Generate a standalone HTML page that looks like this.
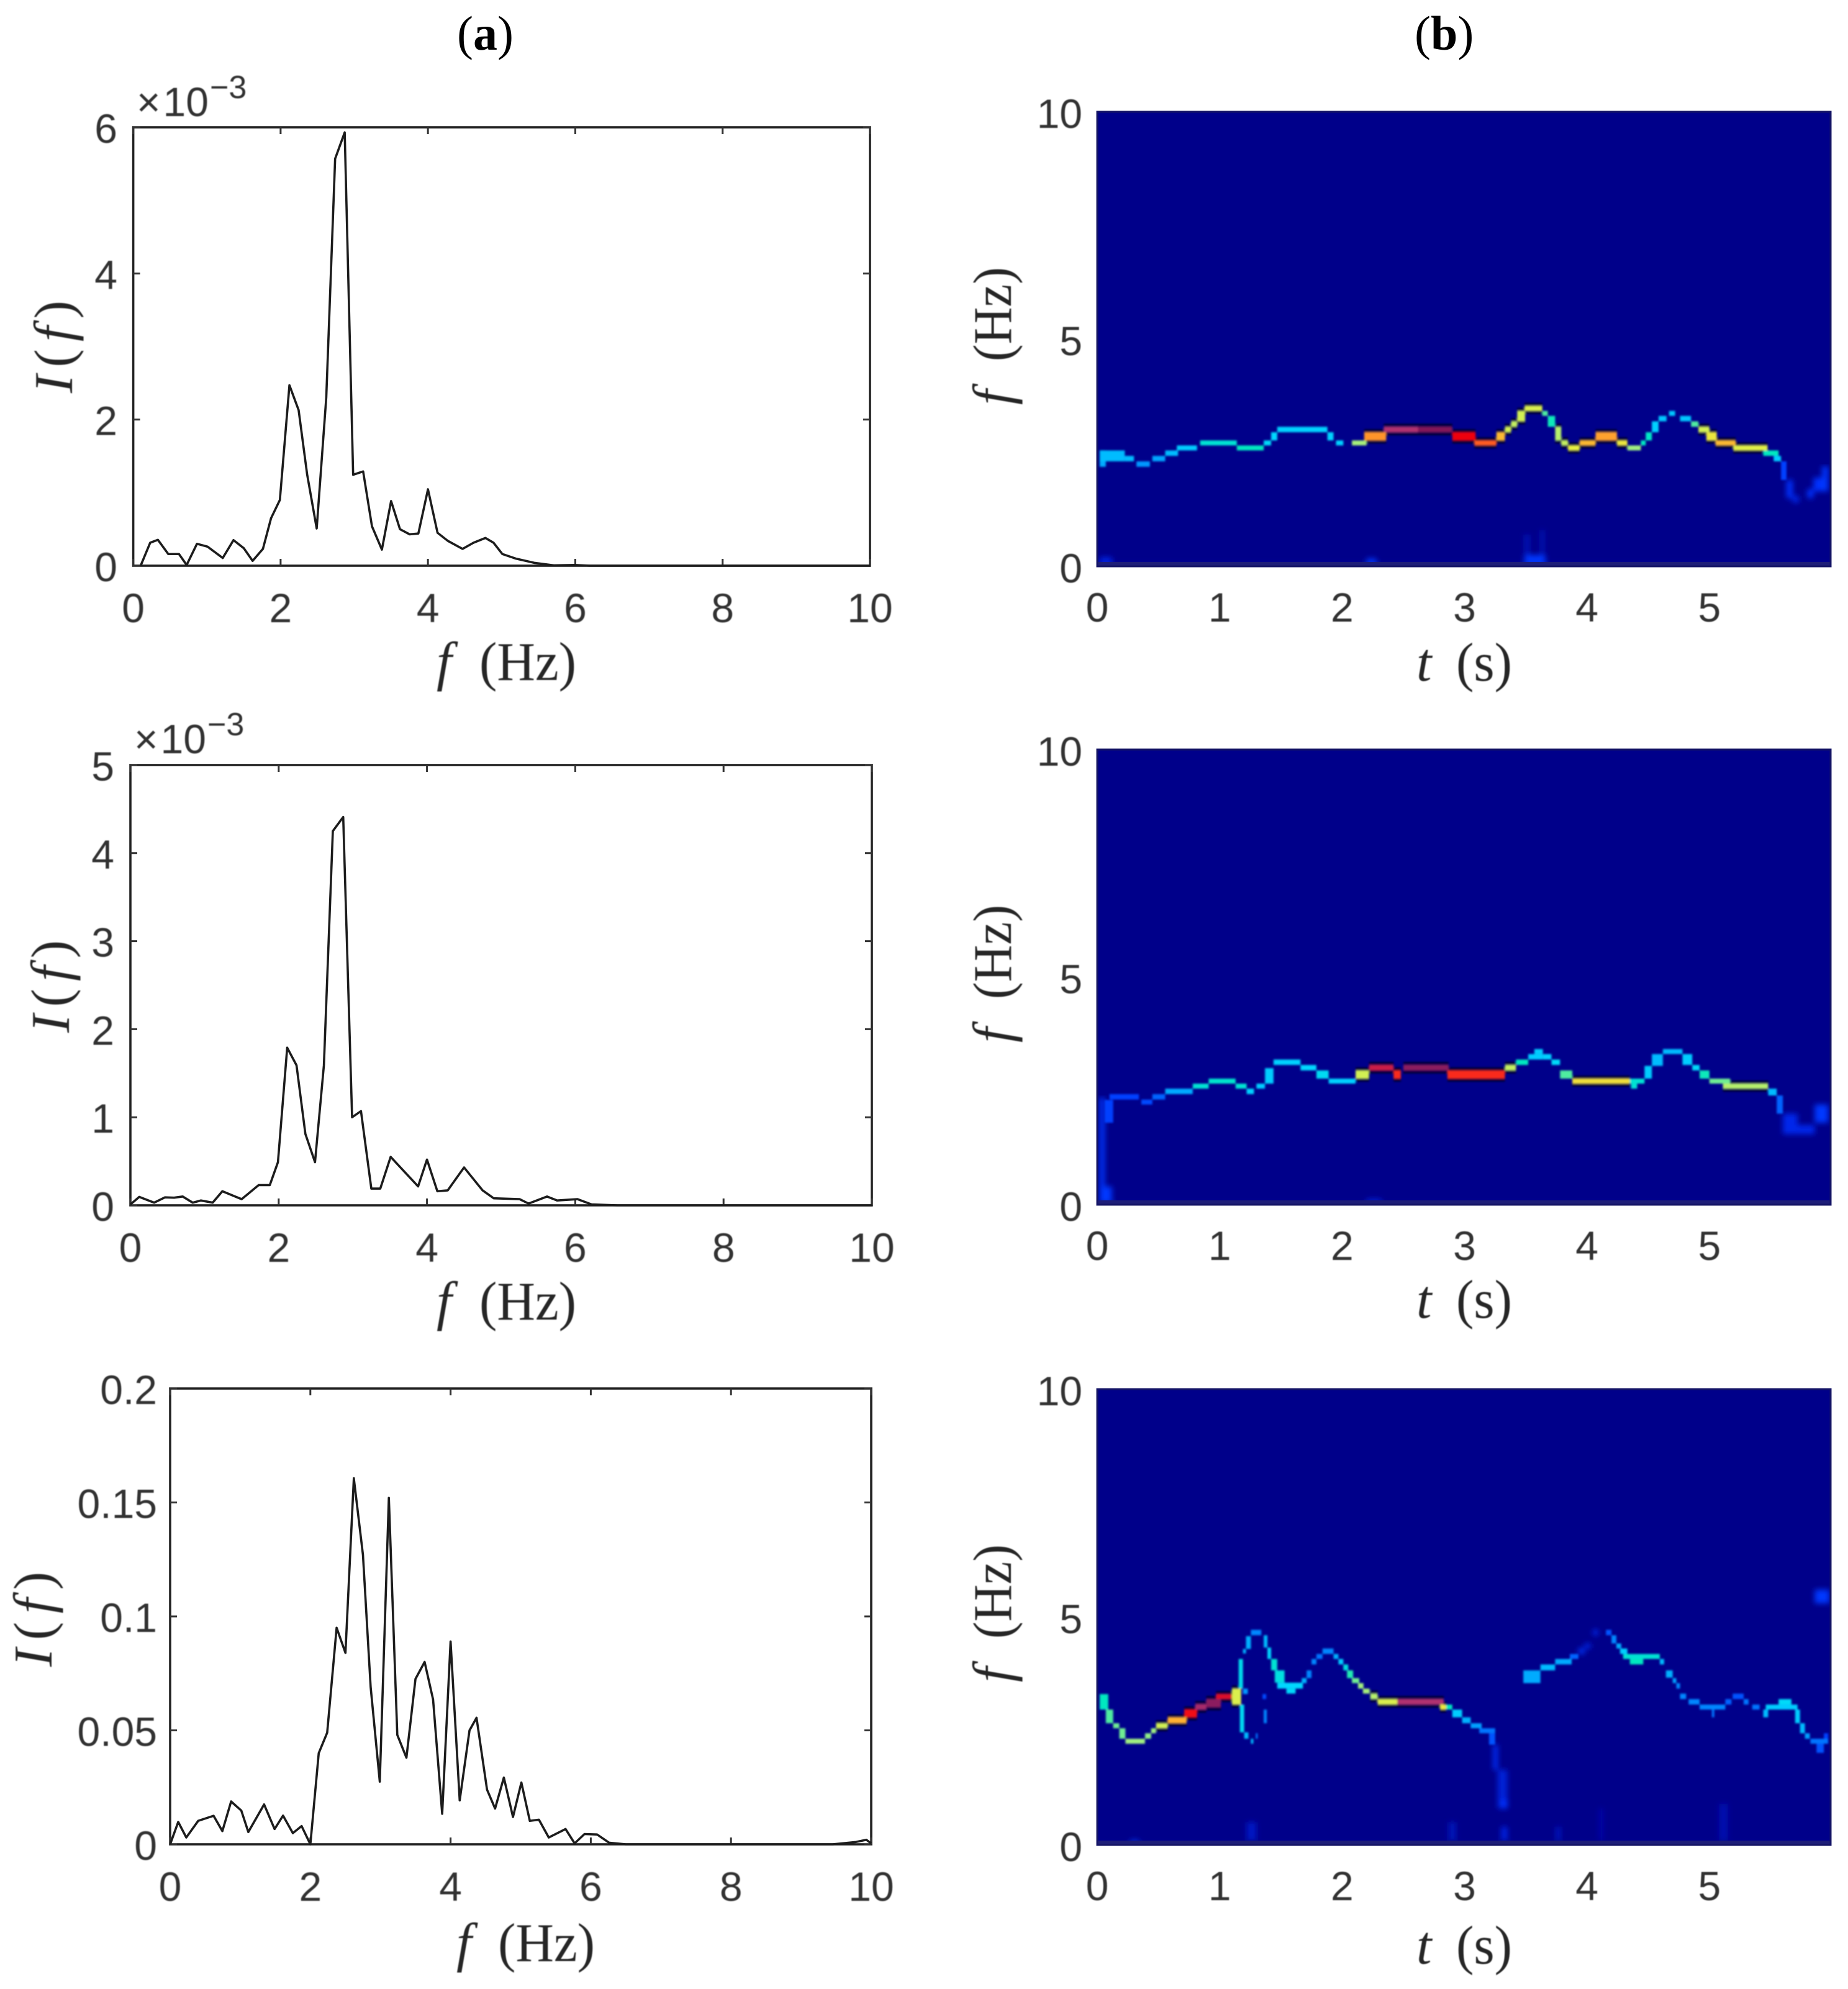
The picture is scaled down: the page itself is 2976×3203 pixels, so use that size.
<!DOCTYPE html>
<html>
<head>
<meta charset="utf-8">
<title>Spectra and spectrograms</title>
<style>
html,body{margin:0;padding:0;background:#fff;}
svg{display:block;}
.lab{font-family:"Liberation Serif",serif;fill:#262626;font-size:88px;}
.it{font-style:italic;}
.up{font-style:normal;}
.sans{font-family:"Liberation Sans",sans-serif;fill:#333;font-size:66px;}
.title{font-family:"Liberation Serif",serif;fill:#000;font-size:78px;}
</style>
</head>
<body>
<svg id="figure" xmlns="http://www.w3.org/2000/svg" width="2976" height="3203" viewBox="0 0 2976 3203">
<defs>
<filter id="soft" x="-2%" y="-2%" width="104%" height="104%"><feGaussianBlur stdDeviation="1.6"/></filter>
<filter id="softWide" x="-2%" y="-2%" width="104%" height="104%"><feGaussianBlur stdDeviation="4.5"/></filter>
<filter id="softText" x="-5%" y="-5%" width="110%" height="110%"><feGaussianBlur stdDeviation="0.9"/></filter>
</defs>
<rect width="2976" height="3203" fill="#fff"/>
<g id="plots"></g>
<text class="title" x="736" y="80">(<tspan font-weight="bold">a</tspan>)</text>
<text class="title" x="2278" y="80">(<tspan font-weight="bold">b</tspan>)</text>
<g filter="url(#softText)">
<text class="sans" x="220" y="187">×<tspan dx="4">10</tspan><tspan dy="-29" dx="2" font-size="52">−3</tspan></text>
<text class="sans" x="216" y="1213">×<tspan dx="4">10</tspan><tspan dy="-29" dx="2" font-size="52">−3</tspan></text>

<text class="lab it" x="703" y="1095">f</text>
<text class="lab" x="772" y="1095" textLength="156" lengthAdjust="spacingAndGlyphs">(Hz)</text>
<text class="lab it" x="703" y="2125">f</text>
<text class="lab" x="772" y="2125" textLength="156" lengthAdjust="spacingAndGlyphs">(Hz)</text>
<text class="lab it" x="735" y="3158">f</text>
<text class="lab" x="802" y="3158" textLength="156" lengthAdjust="spacingAndGlyphs">(Hz)</text>

<text class="lab it" transform="translate(116,633) rotate(-90)" textLength="149">I<tspan class="up">(</tspan>f<tspan class="up">)</tspan></text>
<text class="lab it" transform="translate(111,1663) rotate(-90)" textLength="149">I<tspan class="up">(</tspan>f<tspan class="up">)</tspan></text>
<text class="lab it" transform="translate(83,2684) rotate(-90)" textLength="153">I<tspan class="up">(</tspan>f<tspan class="up">)</tspan></text>

<text class="lab it" x="2281" y="1096">t</text>
<text class="lab" x="2345" y="1096" textLength="90" lengthAdjust="spacingAndGlyphs">(s)</text>
<text class="lab it" x="2281" y="2122">t</text>
<text class="lab" x="2345" y="2122" textLength="90" lengthAdjust="spacingAndGlyphs">(s)</text>
<text class="lab it" x="2281" y="3162">t</text>
<text class="lab" x="2345" y="3162" textLength="90" lengthAdjust="spacingAndGlyphs">(s)</text>

<text class="lab it" transform="translate(1628,652) rotate(-90)">f</text>
<text class="lab" transform="translate(1628,582) rotate(-90)" textLength="152" lengthAdjust="spacingAndGlyphs">(Hz)</text>
<text class="lab it" transform="translate(1628,1679) rotate(-90)">f</text>
<text class="lab" transform="translate(1628,1609) rotate(-90)" textLength="152" lengthAdjust="spacingAndGlyphs">(Hz)</text>
<text class="lab it" transform="translate(1628,2709) rotate(-90)">f</text>
<text class="lab" transform="translate(1628,2639) rotate(-90)" textLength="152" lengthAdjust="spacingAndGlyphs">(Hz)</text>
</g>
</svg>
<script>
// ---------- Spectrum data (column a) ----------
const xTickLabelsA = ['0','2','4','6','8','10'];
const a1YTicks = ['0','2','4','6'];
const a2YTicks = ['0','1','2','3','4','5'];
const a3YTicks = ['0','0.05','0.1','0.15','0.2'];

const a1Freq = [.10,.23,.335,.475,.62,.725,.865,1.01,1.215,1.36,1.50,1.62,1.76,1.87,1.99,2.12,2.245,2.36,2.49,2.62,2.74,2.87,2.985,3.12,3.24,3.375,3.5,3.62,3.75,3.87,4.0,4.13,4.27,4.47,4.62,4.78,4.89,5.01,5.2,5.44,5.71,5.99,6.2,10];
const a1Intensity = [0,.315,.354,.16,.16,.01,.30,.26,.105,.35,.24,.066,.23,.65,.9,2.47,2.13,1.25,.51,2.3,5.57,5.93,1.245,1.29,.54,.22,.885,.5,.43,.44,1.045,.45,.34,.23,.315,.38,.315,.16,.095,.04,.005,.01,0,0];

const a2Freq = [0,.12,.32,.465,.59,.705,.84,.95,1.11,1.24,1.5,1.73,1.88,1.99,2.115,2.24,2.36,2.49,2.61,2.73,2.87,2.99,3.11,3.25,3.37,3.51,3.88,4.0,4.14,4.28,4.5,4.75,4.9,5.25,5.37,5.62,5.755,6.03,6.22,6.57,10];
const a2Intensity = [.01,.096,.03,.09,.087,.10,.03,.055,.03,.16,.07,.23,.23,.49,1.79,1.59,.81,.49,1.59,4.25,4.41,1.0,1.07,.19,.19,.55,.215,.52,.16,.17,.43,.17,.08,.07,.02,.10,.055,.07,.01,0,0];

const a3Freq = [0,.115,.23,.40,.62,.745,.87,1.015,1.115,1.34,1.49,1.61,1.75,1.875,2.0,2.12,2.24,2.375,2.5,2.62,2.75,2.86,2.99,3.12,3.24,3.37,3.5,3.63,3.75,3.88,4.0,4.13,4.27,4.37,4.52,4.635,4.76,4.89,5.01,5.13,5.26,5.4,5.64,5.77,5.91,6.09,6.26,6.5,9.45,9.78,9.93,10];
const a3Intensity = [0,.0098,.003,.0103,.0125,.0058,.0188,.0148,.0054,.0175,.0067,.0126,.0049,.008,0,.040,.049,.095,.084,.1606,.127,.069,.0275,.152,.048,.038,.0726,.080,.0636,.0134,.089,.0193,.05,.0555,.024,.0157,.0293,.012,.0271,.0103,.0108,.003,.0067,.0004,.0045,.0043,.0007,0,0,.001,.002,.0004];

// ---------- Spectrogram data (column b) : each index is one ridge cell ----------
const xTickLabelsB = ['0','1','2','3','4','5'];
const yTickLabelsB = ['0','5','10'];

const b1Start = [0,.02,2.2,3.49,3.49,3.62,.02,.02,.225,.32,.45,.555,.65,.84,1.14,1.36,1.42,1.47,1.88,1.95,2.08,2.18,2.34,2.62,2.90,3.08,3.26,3.33,3.38,3.43,3.49,3.635,3.68,3.74,3.79,3.845,3.94,4.07,4.245,4.33,4.44,4.48,4.53,4.585,4.67,4.76,4.85,4.91,4.975,5.05,5.195,5.44,5.525,5.585,5.63,5.68,5.80,5.85,5.92];
const b1End   = [5.99,.12,2.28,3.66,3.53,3.65,.07,.225,.30,.43,.555,.66,.815,1.14,1.36,1.42,1.47,1.88,1.93,2.01,2.20,2.36,2.62,2.90,3.09,3.26,3.33,3.38,3.43,3.495,3.635,3.68,3.74,3.79,3.845,3.94,4.07,4.245,4.33,4.44,4.48,4.53,4.585,4.65,4.72,4.85,4.91,5.00,5.06,5.215,5.475,5.565,5.585,5.63,5.68,5.73,5.85,5.92,5.97];
const b1Low   = [0,.05,.05,.05,.25,.25,2.19,2.31,2.31,2.19,2.31,2.43,2.55,2.66,2.55,2.66,2.77,2.95,2.77,2.66,2.66,2.77,2.95,2.95,2.77,2.66,2.77,2.95,3.07,3.19,3.42,3.31,3.07,2.77,2.66,2.55,2.66,2.77,2.66,2.55,2.66,2.77,2.95,3.19,3.31,3.19,3.07,2.95,2.77,2.66,2.55,2.43,2.31,1.9,1.5,1.4,1.5,1.65,1.65];
const b1High  = [.07,.2,.17,.25,.7,.8,2.55,2.55,2.43,2.31,2.43,2.55,2.66,2.77,2.66,2.77,2.95,3.07,2.95,2.77,2.77,2.95,3.07,3.07,2.95,2.77,2.95,3.07,3.19,3.42,3.53,3.42,3.31,3.07,2.77,2.66,2.77,2.95,2.77,2.66,2.77,2.95,3.19,3.31,3.42,3.31,3.19,3.07,2.95,2.77,2.66,2.55,2.43,2.31,1.9,1.55,1.7,1.95,2.2];
const b1Level = [.02,.09,.13,.13,.05,.05,.27,.3,.3,.24,.26,.3,.33,.42,.45,.36,.35,.34,.34,.34,.56,.74,.93,.98,.86,.78,.71,.62,.6,.62,.63,.5,.46,.58,.6,.65,.71,.73,.66,.55,.45,.44,.34,.32,.32,.32,.5,.62,.66,.71,.64,.45,.33,.14,.12,.1,.12,.12,.13];

const b2Start = [0,.02,.02,.06,.1,.36,.45,.555,.78,.91,1.13,1.22,1.30,1.37,1.44,1.66,1.79,1.89,2.11,2.22,2.42,2.50,2.86,3.33,3.42,3.52,3.57,3.64,3.71,3.78,3.88,4.35,4.36,4.47,4.53,4.62,4.78,4.86,4.92,5.0,5.11,5.48,5.55,5.6,5.72,5.86,2.2];
const b2End   = [5.99,.06,.12,.13,.34,.45,.555,.78,.91,1.13,1.22,1.28,1.37,1.44,1.66,1.79,1.89,2.11,2.22,2.42,2.48,2.87,3.33,3.42,3.52,3.64,3.64,3.71,3.78,3.88,4.35,4.47,4.41,4.53,4.62,4.78,4.86,4.92,5.0,5.17,5.48,5.55,5.6,5.72,5.86,5.97,2.32];
const b2Low   = [0,.2,.05,1.8,2.31,2.2,2.31,2.43,2.55,2.66,2.55,2.43,2.55,2.66,3.07,2.95,2.77,2.66,2.77,2.95,2.77,2.95,2.77,2.95,3.07,3.19,3.31,3.19,3.07,2.77,2.66,2.66,2.55,2.77,3.05,3.31,3.07,2.95,2.77,2.66,2.55,2.4,2.0,1.55,1.55,1.8,.03];
const b2High  = [.05,2.35,.4,2.3,2.43,2.31,2.43,2.55,2.66,2.77,2.66,2.55,2.66,3.0,3.19,3.07,2.95,2.77,2.95,3.07,2.95,3.07,2.95,3.07,3.19,3.31,3.42,3.31,3.19,2.95,2.77,2.77,2.66,3.05,3.31,3.42,3.31,3.07,2.95,2.77,2.66,2.55,2.4,2.0,1.75,2.2,.12];
const b2Level = [.02,.13,.13,.14,.14,.15,.18,.27,.42,.43,.42,.34,.33,.33,.34,.35,.37,.34,.62,.9,.82,.97,.82,.6,.45,.33,.33,.34,.36,.5,.67,.42,.42,.33,.3,.3,.33,.36,.46,.52,.58,.3,.18,.1,.1,.13,.09];

const b3Start = [0,.27,1.22,3.3,2.87,5.08,3.75,4.1,.02,.07,.13,.18,.23,.39,.44,.48,.575,.71,.80,.89,.97,1.155,1.165,1.2,1.255,1.295,1.36,1.35,1.19,1.10,1.19,1.215,1.255,1.36,1.39,1.42,1.45,1.47,1.545,1.67,1.71,1.75,1.79,1.84,1.93,1.97,2.01,2.04,2.08,2.13,2.17,2.23,2.29,2.45,2.80,2.85,2.90,2.98,3.05,3.12,3.2,3.235,3.27,3.3,3.48,3.62,3.74,3.86,3.93,3.98,4.05,4.155,4.2,4.24,4.27,4.295,4.35,4.595,4.645,4.7,4.73,4.76,4.83,4.92,5.02,5.13,5.19,5.28,5.35,5.44,5.46,5.565,5.7,5.74,5.78,5.825,5.875,5.935,5.86];
const b3End   = [5.99,.34,1.3,3.35,2.93,5.15,3.78,4.13,.09,.13,.18,.23,.39,.44,.48,.575,.73,.815,.89,1.01,1.10,1.19,1.2,1.235,1.275,1.31,1.385,1.38,1.23,1.175,1.215,1.255,1.34,1.39,1.42,1.47,1.53,1.68,1.62,1.71,1.75,1.79,1.84,1.93,1.97,2.01,2.05,2.09,2.14,2.175,2.225,2.29,2.45,2.83,2.85,2.90,2.98,3.05,3.14,3.25,3.25,3.27,3.35,3.35,3.62,3.74,3.875,3.93,3.98,4.03,4.09,4.2,4.24,4.28,4.33,4.595,4.46,4.63,4.7,4.73,4.76,4.81,4.92,5.13,5.04,5.18,5.28,5.32,5.41,5.48,5.72,5.67,5.74,5.78,5.82,5.97,5.935,5.97,5.98];
const b3Low   = [0,.03,.1,.1,.1,.1,.1,.1,2.97,2.67,2.56,2.33,2.22,2.33,2.45,2.56,2.67,2.80,2.97,3.02,3.2,3.43,2.47,2.33,2.22,2.33,2.67,3.2,3.31,3.08,4.2,4.3,4.6,4.33,4.08,3.83,3.56,3.43,3.32,3.55,3.66,3.96,4.08,4.19,4.08,3.96,3.83,3.66,3.55,3.43,3.32,3.2,3.08,3.08,2.97,2.97,2.8,2.67,2.56,2.45,2.2,1.65,.8,.8,3.55,3.83,3.96,4.08,4.19,4.31,4.6,4.6,4.42,4.31,4.19,4.08,3.96,3.96,3.67,3.55,3.43,3.2,3.08,2.97,2.8,3.08,3.2,3.08,2.97,2.8,2.97,3.08,2.67,2.45,2.33,2.22,2.02,2.33,5.3];
const b3High  = [.05,.1,.5,.4,.5,.9,.4,.8,3.31,2.97,2.67,2.56,2.33,2.45,2.56,2.67,2.80,2.97,3.09,3.2,3.31,4.08,3.08,2.47,2.33,2.45,2.97,3.31,3.43,3.43,4.3,4.58,4.72,4.6,4.33,4.08,3.83,3.56,3.43,3.66,3.83,4.08,4.19,4.31,4.19,4.08,3.96,3.83,3.66,3.55,3.43,3.32,3.2,3.2,3.08,3.08,2.97,2.8,2.67,2.56,2.45,2.2,1.65,1.0,3.83,3.96,4.08,4.19,4.31,4.42,4.72,4.72,4.6,4.42,4.31,4.19,4.08,4.08,3.83,3.66,3.55,3.32,3.2,3.08,2.97,3.2,3.32,3.2,3.08,2.97,3.08,3.2,2.97,2.67,2.45,2.33,2.22,2.45,5.6];
const b3Level = [.02,.13,.06,.09,.05,.04,.07,.04,.45,.5,.52,.52,.55,.54,.55,.62,.72,.85,.94,.97,.88,.38,.37,.3,.3,.2,.22,.15,.24,.63,.28,.28,.22,.3,.35,.42,.4,.35,.36,.28,.22,.22,.2,.22,.28,.33,.4,.47,.52,.55,.56,.58,.63,.93,.66,.45,.33,.28,.25,.2,.16,.12,.08,.12,.27,.3,.27,.18,.13,.1,.11,.16,.22,.27,.33,.42,.45,.3,.28,.25,.22,.22,.22,.22,.2,.18,.16,.2,.2,.3,.33,.36,.33,.3,.25,.2,.16,.14,.13];

// ---------- Colour map ----------
const colorStops = [[0,0,0,137],[.12,0,48,255],[.25,0,160,255],[.35,0,216,255],[.45,0,232,192],[.55,160,240,128],[.65,232,240,64],[.72,255,176,48],[.8,255,64,32],[.86,238,0,16],[.93,176,48,112],[1,112,16,80]];
function levelColor(v){
  for(let i=1;i<colorStops.length;i++){
    if(v<=colorStops[i][0]){
      const a=colorStops[i-1],b=colorStops[i],k=(v-a[0])/(b[0]-a[0]);
      return 'rgb('+[1,2,3].map(j=>Math.round(a[j]+(b[j]-a[j])*k)).join(',')+')';
    }
  }
  return 'rgb(112,16,80)';
}

// ---------- Drawing ----------
const NS='http://www.w3.org/2000/svg';
const plots=document.getElementById('plots');
function mk(tag,attrs,parent){
  const el=document.createElementNS(NS,tag);
  for(const k in attrs){el.setAttribute(k,attrs[k]);}
  (parent||plots).appendChild(el);
  return el;
}
function linear(d0,d1,r0,r1){return v=>r0+(v-d0)*(r1-r0)/(d1-d0);}

function tickText(parent,str,x,y,anchor,name){
  const t=mk('text',{x:x,y:y,'text-anchor':anchor,'class':'sans'},parent);
  
  
  t.textContent=str;
}

function spectrum(id,box,yMax,yLabels,xs,ys,labelRight){
  const g=mk('g',{});
  
  
  const X=linear(0,10,box.l,box.r), Y=linear(0,yMax,box.b,box.t);
  const frame=mk('rect',{x:box.l,y:box.t,width:box.r-box.l,height:box.b-box.t,fill:'#fff',stroke:'#222',"stroke-width":3.6},g);
  
  
  const textG=mk('g',{filter:'url(#softText)'},g);
  
  
  xTickLabelsA.forEach(lab=>{
    const v=parseFloat(lab),px=X(v);
    const a=mk('path',{d:'M'+px+' '+box.b+'v-11M'+px+' '+box.t+'v11',stroke:'#333',"stroke-width":3,fill:'none'},g);
    
    
    tickText(textG,lab,px,box.b+91,'middle','x-tick-label-'+id);
  });
  yLabels.forEach(lab=>{
    const v=parseFloat(lab),py=Y(v);
    const a=mk('path',{d:'M'+box.l+' '+py+'h11M'+box.r+' '+py+'h-11',stroke:'#333',"stroke-width":3,fill:'none'},g);
    
    
    tickText(textG,lab,labelRight,py+25,'end','y-tick-label-'+id);
  });
  const d=xs.map((v,i)=>(i?'L':'M')+X(v).toFixed(1)+' '+Y(ys[i]).toFixed(1)).join('');
  const line=mk('path',{d:d,fill:'none',stroke:'#1c1c1c',"stroke-width":3.6,"stroke-linejoin":'round'},g);
  
  
}

function spectrogram(id,box,starts,ends,lows,highs,levels){
  const g=mk('g',{});
  
  
  const X=linear(0,5.99,box.l,box.r), Y=linear(0,10,box.b,box.t);
  const clip=mk('clipPath',{id:'clip-'+id},g);
  mk('rect',{x:box.l,y:box.t,width:box.r-box.l,height:box.b-box.t},clip);
  const bg=mk('rect',{x:box.l,y:box.t,width:box.r-box.l,height:box.b-box.t,fill:'#00008a'},g);
  
  
  const outer=mk('g',{'clip-path':'url(#clip-'+id+')'},g);
  const faint=mk('g',{filter:'url(#softWide)'},outer);
  
  
  const cells=mk('g',{filter:'url(#soft)'},outer);
  
  
  starts.forEach((s,i)=>{
    if(levels[i]>=.58){
      const h=mk('rect',{x:X(s),y:Y(highs[i])-5,width:X(ends[i])-X(s),height:Y(lows[i])-Y(highs[i])+10,fill:'#000',"fill-opacity":.6},cells);
      
      
    }
  });
  starts.forEach((s,i)=>{
    const r=mk('rect',{x:X(s),y:Y(highs[i]),width:X(ends[i])-X(s),height:Y(lows[i])-Y(highs[i]),fill:levelColor(levels[i])},levels[i]<.14?faint:cells);
    
    
  });
  const strip=mk('rect',{x:box.l,y:box.b-7,width:box.r-box.l,height:7,fill:'#1e1e78'},g);
  
  
  const edge=mk('rect',{x:box.l,y:box.t,width:box.r-box.l,height:box.b-box.t,fill:'none',stroke:'#141466',"stroke-width":3},g);
  
  
  const textG=mk('g',{filter:'url(#softText)'},g);
  
  
  xTickLabelsB.forEach(lab=>{tickText(textG,lab,X(parseFloat(lab)),box.b+89,'middle','x-tick-label-'+id);});
  yTickLabelsB.forEach(lab=>{tickText(textG,lab,1743,Y(parseFloat(lab))+26,'end','y-tick-label-'+id);});
}

spectrum('a1',{l:214.6,r:1401,t:205,b:911},6,a1YTicks,a1Freq,a1Intensity,189);
spectrum('a2',{l:210,r:1404,t:1232,b:1941},5,a2YTicks,a2Freq,a2Intensity,184);
spectrum('a3',{l:274,r:1403,t:2236,b:2970},.2,a3YTicks,a3Freq,a3Intensity,253);
spectrogram('b1',{l:1767,r:2948,t:180,b:912},b1Start,b1End,b1Low,b1High,b1Level);
spectrogram('b2',{l:1767,r:2948,t:1207,b:1940},b2Start,b2End,b2Low,b2High,b2Level);
spectrogram('b3',{l:1767,r:2948,t:2237,b:2971},b3Start,b3End,b3Low,b3High,b3Level);
</script>
</body>
</html>
